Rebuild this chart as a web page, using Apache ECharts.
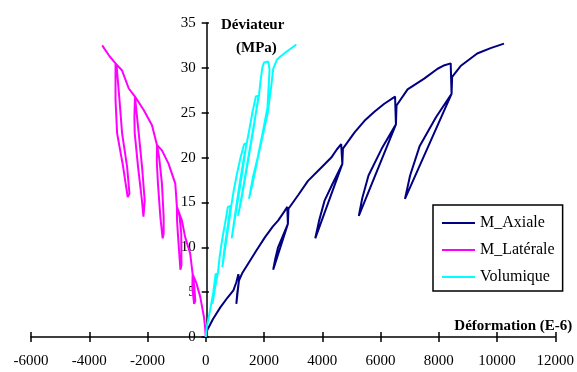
<!DOCTYPE html>
<html>
<head>
<meta charset="utf-8">
<script src="https://cdn.jsdelivr.net/npm/echarts@6/dist/echarts.min.js"></script>
<style>
  html, body { margin: 0; padding: 0; background: #fff; }
  #chart { width: 577px; height: 372px; }
</style>
</head>
<body>
<div id="chart"></div>
<script>
// axis ranges / ticks
const xRange = [-6000, 12000]
const xStep = 2000
const yRange = [0, 35]
const yStep = 5

const seriesNames = ['M_Axiale', 'M_Latérale', 'Volumique']
const seriesColors = ['#000080', '#ff00ff', '#00ffff']

// [déformation (E-6), déviateur (MPa)]
const axiale = [
  [0, 0], [40, 0.7], [250, 2.0], [500, 3.3], [750, 4.4], [950, 5.2], [1050, 6.1], [1120, 7.0],
  [1140, 6.3], [1080, 4.8], [1050, 3.7], [1140, 6.3], [1250, 7.1],
  [1460, 8.2], [1750, 9.7], [2030, 11.1], [2300, 12.3], [2490, 13.0], [2700, 14.0], [2800, 14.5],
  [2820, 12.6], [2612, 11.0], [2483, 10.0], [2394, 8.8], [2315, 7.5], [2820, 12.6], [2840, 14.3],
  [3170, 15.8], [3510, 17.4], [3970, 18.9], [4310, 20.0], [4500, 20.9], [4650, 21.5],
  [4690, 19.3], [4342, 17.0], [4080, 15.2], [3894, 13.0], [3760, 11.0], [4690, 19.3], [4710, 21.0],
  [5110, 22.8], [5450, 24.1], [5790, 25.1], [6130, 26.0], [6500, 26.8],
  [6530, 23.7], [6043, 21.0], [5588, 18.0], [5375, 15.5], [5255, 13.5], [6530, 23.7], [6550, 25.8],
  [6930, 27.6], [7500, 28.8], [7960, 29.9], [8200, 30.3], [8410, 30.5],
  [8440, 27.1], [7905, 24.5], [7347, 21.3], [7016, 18.0], [6840, 15.4], [8440, 27.1], [8460, 29.0],
  [8750, 30.2], [9320, 31.6], [9780, 32.2], [10240, 32.7]
]

const laterale = [
  [0, 0], [-20, 1.0], [-60, 2.2], [-191, 4.5], [-320, 6.0], [-450, 7.0],
  [-460, 5.5], [-400, 3.7], [-360, 4.0], [-390, 5.5], [-450, 7.0],
  [-534, 9.3], [-705, 11.1], [-820, 13.0], [-990, 14.5],
  [-985, 13.0], [-957, 11.5], [-870, 7.5], [-835, 8.0], [-841, 11.5], [-900, 13.5], [-990, 14.5],
  [-1046, 17.1], [-1275, 19.3], [-1504, 20.8], [-1675, 21.4],
  [-1680, 19.5], [-1641, 17.1], [-1559, 13.4], [-1480, 11.0], [-1446, 11.5], [-1446, 13.4], [-1504, 17.1], [-1600, 20.0], [-1675, 21.4],
  [-1846, 23.6], [-2130, 25.3], [-2430, 26.8],
  [-2450, 24.5], [-2438, 22.7], [-2325, 19.0], [-2190, 15.2], [-2140, 13.4], [-2096, 15.2], [-2188, 19.0], [-2301, 22.7], [-2390, 25.5], [-2430, 26.8],
  [-2643, 27.7], [-2872, 29.7], [-3098, 30.5],
  [-3098, 26.4], [-3043, 22.7], [-2838, 19.0], [-2680, 15.6], [-2620, 16.0], [-2701, 19.0], [-2872, 22.7], [-2961, 26.4], [-3060, 30.2], [-3098, 30.5],
  [-3327, 31.4], [-3556, 32.5]
]

const volumique = [
  [0, 0], [40, 1.2], [150, 3.0], [260, 5.0], [340, 7.0],
  [410, 7.1], [300, 5.2], [230, 3.7], [320, 5.5], [420, 7.2],
  [480, 9.0], [560, 10.8], [660, 12.6], [760, 14.5],
  [850, 14.6], [740, 12.0], [640, 9.8], [570, 7.8], [670, 10.0], [780, 12.4], [880, 14.7],
  [960, 16.3], [1060, 18.0], [1180, 19.8], [1320, 21.5],
  [1400, 21.6], [1260, 18.5], [1080, 14.8], [890, 11.0], [1000, 13.5], [1160, 17.0], [1300, 19.8], [1420, 21.8],
  [1500, 23.2], [1600, 25.0], [1720, 26.8],
  [1810, 26.9], [1640, 23.2], [1430, 19.2], [1240, 15.6], [1110, 13.5], [1260, 16.2], [1460, 20.0], [1660, 23.8], [1830, 27.0],
  [1880, 28.5], [1940, 30.0], [2000, 30.6],
  [2150, 30.7], [2190, 29.8], [2120, 25.6], [1950, 22.7], [1790, 20.1], [1620, 17.8], [1484, 15.4],
  [1600, 17.0], [1780, 19.8], [1960, 22.5], [2130, 25.0], [2250, 28.0], [2315, 29.9],
  [2440, 30.9], [2543, 31.2], [2770, 31.8], [3111, 32.6]
]

const seriesData = [axiale, laterale, volumique]

const serif = '"Liberation Serif", "Times New Roman", serif'
const chart = echarts.init(document.getElementById('chart'), null, { renderer: 'canvas' })

const grid = { left: 31, right: 19, top: 23, bottom: 35 }
const plotWidth = 577 - grid.left - grid.right
// the vertical axis crosses the horizontal one at x = 0
const zeroX = plotWidth * (0 - xRange[0]) / (xRange[1] - xRange[0])

function xAxisDef(main) {
  return {
    type: 'value',
    min: xRange[0], max: xRange[1], interval: xStep,
    position: main ? 'bottom' : 'top',
    offset: main ? 0 : -(372 - grid.top - grid.bottom),
    axisLine: { show: main, onZero: false, lineStyle: { color: '#000', width: 1.5 } },
    axisTick: { show: true, length: 5, lineStyle: { color: '#000', width: 1.5 } },
    axisLabel: { show: main, color: '#000', fontFamily: serif, fontSize: 15, margin: 17, formatter: v => String(v) },
    splitLine: { show: false },
    name: main ? 'Déformation (E-6)' : '',
    nameLocation: 'end',
    nameGap: 17,
    nameTextStyle: { color: '#000', fontFamily: serif, fontSize: 15, fontWeight: 'bold', align: 'right', verticalAlign: 'bottom', padding: [0, 0, 3, 0] }
  }
}

function yAxisDef(main) {
  return {
    type: 'value',
    min: yRange[0], max: yRange[1], interval: yStep,
    position: main ? 'left' : 'right',
    offset: main ? -zeroX : -(plotWidth - zeroX),
    axisLine: { show: main, onZero: false, lineStyle: { color: '#000', width: 1.5 } },
    axisTick: { show: true, length: 5, lineStyle: { color: '#000', width: 1.5 } },
    axisLabel: { show: main, color: '#000', fontFamily: serif, fontSize: 15, margin: 11 },
    splitLine: { show: false }
  }
}

chart.setOption({
  animation: false,
  backgroundColor: '#fff',
  grid,
  xAxis: [xAxisDef(true), xAxisDef(false)],
  yAxis: [yAxisDef(true), yAxisDef(false)],
  legend: {
    data: seriesNames,
    orient: 'vertical',
    left: 433, top: 205,
    backgroundColor: '#fff',
    borderColor: '#000', borderWidth: 1.5, borderRadius: 0,
    padding: [10, 8, 6, 9],
    icon: 'rect',
    itemWidth: 33, itemHeight: 2, itemGap: 11,
    textStyle: { color: '#000', fontFamily: serif, fontSize: 16 }
  },
  graphic: [
    { type: 'text', left: 221, top: 18, style: { text: 'Déviateur', fill: '#000', font: 'bold 15px ' + serif } },
    { type: 'text', left: 236, top: 41, style: { text: '(MPa)', fill: '#000', font: 'bold 15px ' + serif } }
  ],
  series: seriesNames.map((name, i) => ({
    name,
    type: 'line',
    data: seriesData[i],
    symbol: 'none',
    smooth: false,
    color: seriesColors[i],
    lineStyle: { width: 2, color: seriesColors[i] }
  }))
})
</script>
</body>
</html>
